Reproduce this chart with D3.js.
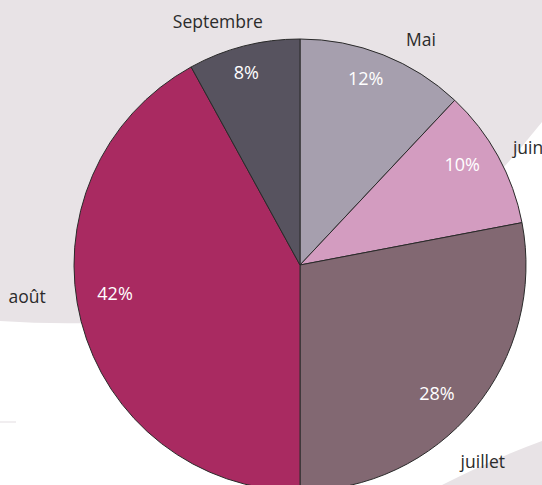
<!DOCTYPE html>
<html>
<head>
<meta charset="utf-8">
<script src="https://cdn.jsdelivr.net/npm/d3@7"></script>
<style>
  body { margin: 0; background: #fff; }
  svg { display: block; }
  .name { font-family: "Open Sans", Lato, sans-serif; font-size: 17.5px; fill: #2b2b2b; }
  .pct { font-family: "Open Sans", Lato, sans-serif; font-size: 18px; fill: #fff; }
</style>
</head>
<body>
<script>
var months = ["Mai", "juin", "juillet", "août", "Septembre"];
var shares = [12, 10, 28, 42, 8];
var colors = ["#a69fae", "#d39cc0", "#826872", "#a92a61", "#57535f"];

function init(){
    var w = 542;
    var h = 485;
    var cx = 300, cy = 265;
    var radius = 226;

    var svg = d3.select("body")
                .append("svg")
                .attr("width", w)
                .attr("height", h);

    // background swooshes
    svg.append("path")
        .attr("d", "M0,0 L542,0 L542,122 Q522,147 503,168 L470,200 L90,323 Q45,324 0,321 Z")
        .attr("fill", "#e8e3e6");
    svg.append("path")
        .attr("d", "M442,485 Q495,458 542,441 L542,485 Z")
        .attr("fill", "#e8e3e6");
    svg.append("line")
        .attr("x1", 0).attr("x2", 16).attr("y1", 422).attr("y2", 422)
        .attr("stroke", "#ece9eb").attr("stroke-width", 1.5);

    var data = months.map(function(m, i){ return {name: m, value: shares[i], color: colors[i]}; });

    var pie = d3.pie()
                .sort(null)
                .value(function(d){ return d.value; });

    var arc = d3.arc()
                .innerRadius(0)
                .outerRadius(radius);

    var pctArc = d3.arc()
                .innerRadius(192)
                .outerRadius(192);

    var nameArc = d3.arc()
                .innerRadius(258)
                .outerRadius(258);

    // small hand adjustments of the label positions
    var nameNudge = {
        "Mai": [26, 15],
        "juin": [2, 7],
        "juillet": [-16, 32],
        "août": [-23, -32],
        "Septembre": [-18, 7]
    };
    var pctNudge = {
        "Mai": [-5, -8],
        "juin": [-6, -8],
        "juillet": [-11, 6],
        "août": [1, -19],
        "Septembre": [-6, -7]
    };

    function place(a, nudge){
        return function(d){
            var c = a.centroid(d);
            var n = nudge[d.data.name];
            return "translate(" + (c[0] + n[0]) + "," + (c[1] + n[1]) + ")";
        };
    }

    var g = svg.append("g")
                .attr("transform", "translate(" + cx + "," + cy + ")");

    var arcs = g.selectAll("g.arc")
                .data(pie(data))
                .enter()
                .append("g")
                .attr("class", "arc");

    arcs.append("path")
        .attr("fill", function(d){ return d.data.color; })
        .attr("stroke", "#2a2a2a")
        .attr("stroke-width", 1)
        .attr("d", arc);

    arcs.append("text")
        .attr("class", "pct")
        .attr("transform", place(pctArc, pctNudge))
        .attr("text-anchor", "middle")
        .attr("dy", "0.36em")
        .text(function(d){ return d.data.value + "%"; });

    arcs.append("text")
        .attr("class", "name")
        .attr("transform", place(nameArc, nameNudge))
        .attr("text-anchor", "middle")
        .attr("dy", "0.36em")
        .text(function(d){ return d.data.name; });
}
window.onload = init;
</script>
</body>
</html>
